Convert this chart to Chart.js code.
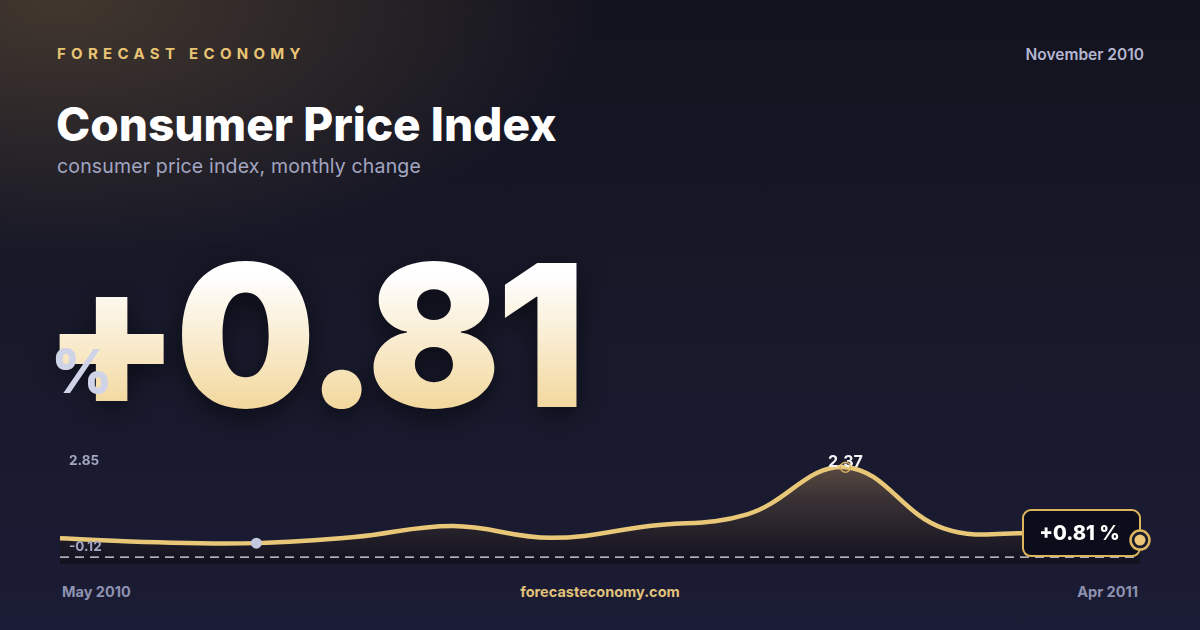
<!DOCTYPE html>
<html>
<head>
<meta charset="utf-8">
<script src="https://cdn.jsdelivr.net/npm/chart.js@4/dist/chart.umd.min.js"></script>
<style>
  html, body { margin: 0; padding: 0; }
  body {
    width: 1200px; height: 630px; overflow: hidden; position: relative;
    font-family: Inter, "Noto Sans", sans-serif;
    background:
      radial-gradient(ellipse 540px 260px at 60px 0px, rgba(105, 85, 58, 0.55), rgba(105, 85, 58, 0) 100%),
      linear-gradient(180deg, #13131f 0%, #171828 45%, #1b1c35 100%);
  }
  .brand { position: absolute; left: 57px; top: 44px; font-size: 15px; font-weight: 700; letter-spacing: 5.3px; color: #e8c474; }
  .date { position: absolute; right: 56px; top: 45px; font-size: 15.5px; font-weight: 600; color: #b4b7d2; }
  h1 { position: absolute; left: 56px; top: 96px; margin: 0; font-size: 46px; font-weight: 800; color: #ffffff; letter-spacing: 0; }
  .sub { position: absolute; left: 57px; top: 154px; font-size: 19.5px; color: #a3a6c2; letter-spacing: 0.15px; }
  .big {
    position: absolute; left: 43px; top: 236px; font-size: 198px; font-weight: 900; letter-spacing: -5px; line-height: 1;
    background: linear-gradient(180deg, #ffffff 20%, #f3d9a0 85%);
    -webkit-background-clip: text; background-clip: text; color: transparent;
    filter: drop-shadow(0 10px 14px rgba(0, 0, 0, 0.45));
  }
  .pct { position: absolute; left: 51px; top: 335px; font-size: 60px; font-weight: 800; color: #cfd3e8; }
  #wrap { position: absolute; left: 0; top: 420px; width: 1200px; height: 160px; }
  .foot { position: absolute; top: 583px; font-size: 14.5px; font-weight: 700; color: #8e91b0; }
  .site { position: absolute; top: 583px; left: 0; width: 1200px; text-align: center; font-size: 14.5px; font-weight: 700; color: #e2c27a; }
</style>
</head>
<body>
<div class="brand">FORECAST ECONOMY</div>
<div class="date">November 2010</div>
<h1>Consumer Price Index</h1>
<div class="sub">consumer price index, monthly change</div>
<div class="big">+0.81</div>
<div class="pct">%</div>
<div id="wrap"><canvas id="chart"></canvas></div>
<div class="foot" style="left:62px">May 2010</div>
<div class="site">forecasteconomy.com</div>
<div class="foot" style="right:62px">Apr 2011</div>

<script>
const months = ["May 2010", "Jun 2010", "Jul 2010", "Aug 2010", "Sep 2010", "Oct 2010",
                "Nov 2010", "Dec 2010", "Jan 2011", "Feb 2011", "Mar 2011", "Apr 2011"];
const cpiChange = [0.50, 0.39, 0.37, 0.53, 0.82, 0.51, 0.82, 1.13, 2.37, 0.76, 0.63, 0.45];
const rangeLabels = ["2.85", "-0.12"];
const peakLabel = "2.37";
const lastLabel = "+0.81 %";
const lowIndex = 2;
const peakIndex = 8;

const gold = "#e8c878";

const overlay = {
  id: "overlay",
  afterDatasetsDraw(chart) {
    const { ctx, chartArea, scales } = chart;
    const pts = chart.getDatasetMeta(0).data;
    ctx.save();

    // zero line
    const y0 = scales.y.getPixelForValue(0);
    ctx.strokeStyle = "rgba(255,255,255,0.9)";
    ctx.lineWidth = 1.3;
    ctx.setLineDash([9, 6]);
    ctx.beginPath();
    ctx.moveTo(chartArea.left, y0);
    ctx.lineTo(chartArea.right, y0);
    ctx.stroke();
    ctx.setLineDash([]);

    // range labels
    ctx.font = "700 13.5px Inter";
    ctx.fillStyle = "#a3a6c2";
    ctx.textBaseline = "middle";
    ctx.fillText(rangeLabels[0], chartArea.left + 9, chartArea.top + 12);
    ctx.fillText(rangeLabels[1], chartArea.left + 9, chartArea.bottom - 17);

    // low point
    const lo = pts[lowIndex];
    ctx.fillStyle = "#c4c8de";
    ctx.beginPath();
    ctx.arc(lo.x, lo.y, 5.5, 0, Math.PI * 2);
    ctx.fill();

    // peak point
    const pk = pts[peakIndex];
    ctx.font = "700 16px Inter";
    ctx.fillStyle = "#f4f4f8";
    ctx.textAlign = "center";
    ctx.fillText(peakLabel, pk.x, pk.y - 5);
    ctx.strokeStyle = "#d9b25e";
    ctx.lineWidth = 1.5;
    ctx.beginPath();
    ctx.arc(pk.x, pk.y, 5, 0, Math.PI * 2);
    ctx.stroke();

    // last point box
    const last = pts[pts.length - 1];
    const bw = 117, bh = 46, bx = last.x - bw, by = last.y - 30;
    ctx.fillStyle = "#0c0d1a";
    ctx.strokeStyle = "#dcb55e";
    ctx.lineWidth = 2;
    ctx.beginPath();
    ctx.roundRect(bx, by, bw, bh, 8);
    ctx.fill();
    ctx.stroke();
    ctx.font = "800 20px Inter";
    ctx.fillStyle = "#ffffff";
    ctx.fillText(lastLabel, bx + bw / 2 - 2, by + bh / 2 + 1);

    ctx.strokeStyle = "#dcb55e";
    ctx.lineWidth = 2.5;
    ctx.fillStyle = "#181a2e";
    ctx.beginPath();
    ctx.arc(last.x, last.y, 9.5, 0, Math.PI * 2);
    ctx.fill();
    ctx.stroke();
    ctx.fillStyle = "#ecc878";
    ctx.beginPath();
    ctx.arc(last.x, last.y, 5.5, 0, Math.PI * 2);
    ctx.fill();
    ctx.restore();
  },
};

new Chart(document.getElementById("chart"), {
  type: "line",
  data: {
    labels: months,
    datasets: [{
      data: cpiChange,
      borderColor: gold,
      borderWidth: 4.5,
      tension: 0.4,
      pointRadius: 0,
      fill: "start",
      backgroundColor(context) {
        const { ctx, chartArea } = context.chart;
        if (!chartArea) return "transparent";
        const g = ctx.createLinearGradient(0, chartArea.top, 0, chartArea.bottom);
        g.addColorStop(0, "rgba(160, 128, 90, 0.6)");
        g.addColorStop(0.45, "rgba(78, 64, 54, 0.6)");
        g.addColorStop(1, "rgba(12, 12, 20, 0.6)");
        return g;
      },
    }],
  },
  options: {
    responsive: true,
    maintainAspectRatio: false,
    animation: false,
    layout: { padding: { left: 60, right: 60, top: 29, bottom: 16 } },
    plugins: { legend: { display: false }, tooltip: { enabled: false } },
    scales: {
      x: { display: false, offset: false },
      y: { display: false, min: -0.18, max: 2.85 },
    },
  },
  plugins: [overlay],
});
</script>
</body>
</html>
